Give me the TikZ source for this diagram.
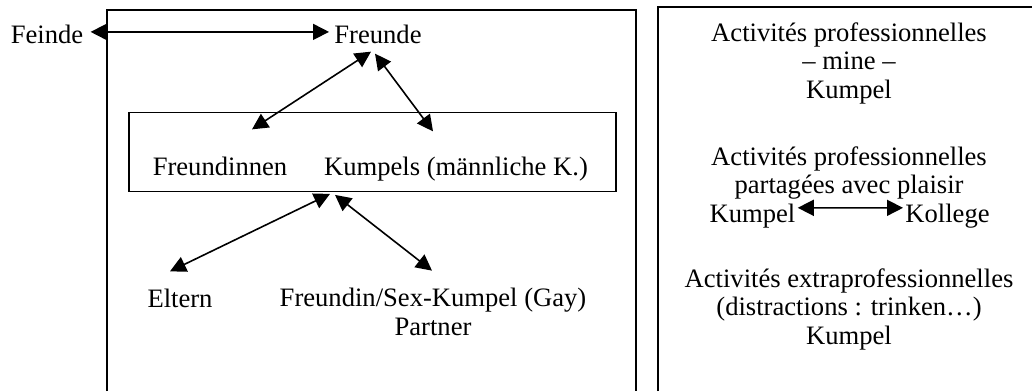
\documentclass[tikz,border=0pt]{standalone}
\usepackage{fontspec}
\setmainfont{Liberation Serif}
\usetikzlibrary{positioning, arrows.meta, calc}

\tikzset{
    word/.style={inner sep=1pt, anchor=base, font=\fontsize{13.3pt}{14.25pt}\selectfont},
    link/.style={{Triangle[length=8pt,width=8pt]}-{Triangle[length=8pt,width=8pt]}, line width=0.8pt},
    frame/.style={line width=0.9pt}
}

\begin{document}
\begin{tikzpicture}[x=0.5pt, y=-0.5pt]
        \useasboundingbox (0,0) rectangle (1032,391);

        % frames
        \draw[frame] (107,391) -- (107,10) -- (636,10) -- (636,391);
        \draw[frame, line width=1.1pt] (658,391) -- (658,7) -- (1032,7);

        % left side
        \node[word] (Feinde) at (47,43) {Feinde};
        \node[word] (Freunde) at (378,43) {Freunde};
        \node[word] (Freundinnen) at (220,175) {Freundinnen};
        \node[word] (Kumpels) at (456,175) {Kumpels (männliche K.)};
        \node[draw, frame, inner sep=0pt, minimum width=243.5pt, minimum height=39.5pt] (Kreis) at (372.5,152) {};
        \node[word] (Eltern) at (180,307) {Eltern};
        \node[word, align=center] (Freundin) at (433,335) {Freundin/Sex-Kumpel (Gay)\\Partner};

        \draw[link] ([xshift=2.5pt,yshift=1pt]Feinde.east) -- ([xshift=-1.5pt,yshift=1pt]Freunde.west);
        \draw[link] ([xshift=-3.5pt,yshift=-3pt]Freunde.south) -- ([xshift=16pt,yshift=12.4pt]Freundinnen.north);
        \draw[link] ([xshift=-1.5pt,yshift=-4pt]Freunde.south) -- ([xshift=-11.5pt,yshift=11.4pt]Kumpels.north);
        \draw[link] ([xshift=-21.25pt,yshift=-0.75pt]Kreis.south) -- ([xshift=-5pt,yshift=7.4pt]Eltern.north);
        \draw[link] ([xshift=-18.75pt,yshift=-1.25pt]Kreis.south) -- ([xshift=-0.5pt,yshift=7.5pt]Freundin.north);

        % right side
        \node[word, align=center] (Mine) at (849,98) {Activités professionnelles\\– mine –\\Kumpel};
        \node[word, align=center] (Geteilt) at (849,193.5) {Activités professionnelles\\partagées avec plaisir};
        \node[word] (Kumpel) at (752.5,222) {Kumpel};
        \node[word] (Kollege) at (947.5,222) {Kollege};
        \node[word, align=center] (Freizeit) at (849,344) {Activités extraprofessionnelles\\(distractions : trinken…)\\Kumpel};

        \draw[link] ([yshift=3.9pt]Kumpel.east) -- ([yshift=3.9pt]Kollege.west);
\end{tikzpicture}
\end{document}
